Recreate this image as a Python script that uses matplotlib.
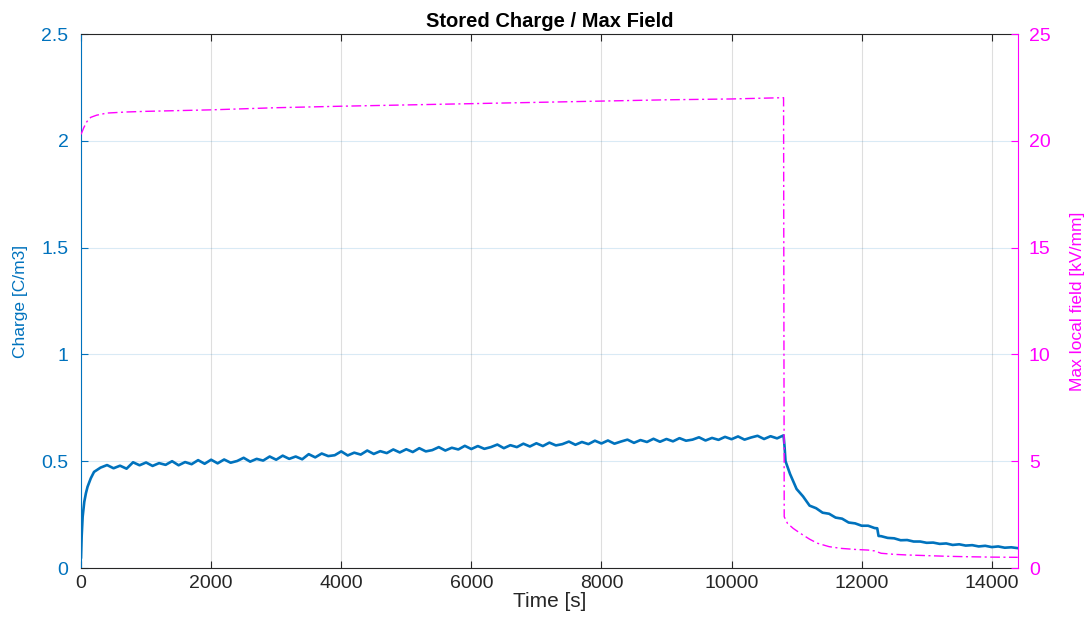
#!/usr/bin/env python3
"""Stored charge / max local field over time (two y axes)."""

import matplotlib
matplotlib.use('Agg')
import matplotlib.pyplot as plt

# --- data ---
charge_time = [0, 10, 25, 50, 75, 100, 150, 200, 250, 300,
               400, 500, 600, 700, 800, 900, 1000,
               1100, 1200, 1300, 1400, 1500, 1600, 1700, 1800, 1900, 2000,
               2100, 2200, 2300, 2400, 2500, 2600, 2700, 2800, 2900, 3000,
               3100, 3200, 3300, 3400, 3500, 3600, 3700, 3800, 3900, 4000,
               4100, 4200, 4300, 4400, 4500, 4600, 4700, 4800, 4900, 5000,
               5100, 5200, 5300, 5400, 5500, 5600, 5700, 5800, 5900, 6000,
               6100, 6200, 6300, 6400, 6500, 6600, 6700, 6800, 6900, 7000,
               7100, 7200, 7300, 7400, 7500, 7600, 7700, 7800, 7900, 8000,
               8100, 8200, 8300, 8400, 8500, 8600, 8700, 8800, 8900, 9000,
               9100, 9200, 9300, 9400, 9500, 9600, 9700, 9800, 9900, 10000,
               10100, 10200, 10300, 10400, 10500, 10600, 10700, 10800,
               10815, 10830, 10900, 11000, 11100, 11200, 11300, 11400, 11500, 11600,
               11700, 11800, 11900, 12000, 12100, 12200, 12240, 12260, 12300, 12400,
               12500, 12600, 12700, 12800, 12900, 13000, 13100, 13200, 13300, 13400,
               13500, 13600, 13700, 13800, 13900, 14000, 14100, 14200, 14300, 14400]
charge = [0.05, 0.15, 0.24, 0.31, 0.35, 0.38, 0.42, 0.45, 0.46, 0.47,
          0.482, 0.467, 0.479, 0.465, 0.495, 0.481, 0.494,
          0.478, 0.491, 0.483, 0.500, 0.481, 0.496, 0.486, 0.505, 0.488, 0.507,
          0.490, 0.508, 0.493, 0.501, 0.516, 0.498, 0.511, 0.503, 0.522, 0.507,
          0.526, 0.511, 0.522, 0.509, 0.533, 0.518, 0.536, 0.524, 0.528, 0.546,
          0.527, 0.540, 0.531, 0.550, 0.534, 0.547, 0.538, 0.555, 0.541, 0.556,
          0.543, 0.561, 0.546, 0.552, 0.566, 0.550, 0.563, 0.555, 0.572, 0.557,
          0.571, 0.558, 0.566, 0.578, 0.561, 0.575, 0.566, 0.582, 0.569, 0.584,
          0.571, 0.587, 0.574, 0.580, 0.592, 0.577, 0.590, 0.580, 0.596, 0.583,
          0.597, 0.582, 0.592, 0.601, 0.586, 0.599, 0.590, 0.605, 0.591, 0.604,
          0.593, 0.608, 0.596, 0.601, 0.612, 0.597, 0.609, 0.600, 0.614, 0.603,
          0.616, 0.601, 0.611, 0.619, 0.604, 0.617, 0.607, 0.621,
          0.57, 0.50, 0.44, 0.37, 0.335, 0.292, 0.280, 0.259, 0.254, 0.236,
          0.231, 0.213, 0.209, 0.198, 0.198, 0.187, 0.186, 0.150, 0.149, 0.141,
          0.139, 0.130, 0.131, 0.124, 0.124, 0.118, 0.119, 0.113, 0.115, 0.108,
          0.111, 0.105, 0.107, 0.101, 0.104, 0.098, 0.101, 0.095, 0.097, 0.093]

field_time = [0, 40, 90, 150, 240, 400, 700, 1000, 2000, 3000,
              4000, 5000, 6000, 7000, 8000, 9000, 10000, 10800, 10810, 10860,
              10950, 11060, 11200, 11320, 11500, 11680, 11900, 12100, 12200, 12300,
              12500, 12700, 13000, 13300, 13600, 14000, 14400]
field = [20.3, 20.6, 20.9, 21.1, 21.2, 21.3, 21.35, 21.38, 21.45, 21.55,
         21.62, 21.68, 21.74, 21.8, 21.86, 21.92, 21.96, 22.02, 2.4, 2.09,
         1.85, 1.62, 1.35, 1.16, 1.0, 0.92, 0.87, 0.84, 0.80, 0.69,
         0.64, 0.61, 0.58, 0.55, 0.53, 0.51, 0.50]

x_ticks = [0, 2000, 4000, 6000, 8000, 10000, 12000, 14000]
left_ticks = [0, 0.5, 1, 1.5, 2, 2.5]
left_tick_labels = ['0', '0.5', '1', '1.5', '2', '2.5']
right_ticks = [0, 5, 10, 15, 20, 25]

BLUE = '#0072BD'
MAGENTA = '#FF00FF'
DARK = '#262626'

plt.rcParams['font.family'] = ['Liberation Sans', 'DejaVu Sans']

fig = plt.figure(figsize=(10.92, 6.22), dpi=100)
ax = fig.add_axes([0.0742, 0.0868, 0.8578, 0.8585])

ax.plot(charge_time, charge, color=BLUE, linewidth=1.9)
ax.set_xlim(0, 14400)
ax.set_ylim(0, 2.5)
ax.set_xticks(x_ticks)
ax.set_yticks(left_ticks)
ax.set_yticklabels(left_tick_labels)

# MATLAB-like grid: horizontal lines tinted by axis colour
ax.xaxis.grid(True, color=DARK, alpha=0.15, linewidth=0.8)
ax.yaxis.grid(True, color=BLUE, alpha=0.15, linewidth=0.8)
ax.set_axisbelow(True)

ax.tick_params(axis='x', direction='in', colors=DARK, labelsize=14,
               top=True, length=5, pad=5)
ax.tick_params(axis='y', direction='in', colors=BLUE, labelsize=14,
               length=5, pad=9)
ax.spines['left'].set_color(BLUE)
ax.spines['top'].set_color(DARK)
ax.spines['bottom'].set_color(DARK)
ax.spines['right'].set_visible(False)

ax.set_xlabel('Time [s]', fontsize=15, color=DARK, labelpad=0)
ax.set_ylabel('Charge [C/m3]', fontsize=12.5, color=BLUE, labelpad=10)
ax.set_title('Stored Charge / Max Field', fontsize=14.5, fontweight='bold',
             color='black', pad=5)

ax2 = ax.twinx()
ax2.plot(field_time, field, color=MAGENTA, linewidth=1.0,
         linestyle=(0, (7, 2.5, 1.5, 2.5)))
ax2.set_ylim(0, 25)
ax2.set_yticks(right_ticks)
ax2.tick_params(axis='y', direction='in', colors=MAGENTA, labelsize=14,
                length=5, pad=8)
for side in ['left', 'top', 'bottom']:
    ax2.spines[side].set_visible(False)
ax2.spines['right'].set_color(MAGENTA)
ax2.set_ylabel('Max local field [kV/mm]', fontsize=12.5, color=MAGENTA,
               labelpad=14)

fig.savefig('out.png', dpi=100)
